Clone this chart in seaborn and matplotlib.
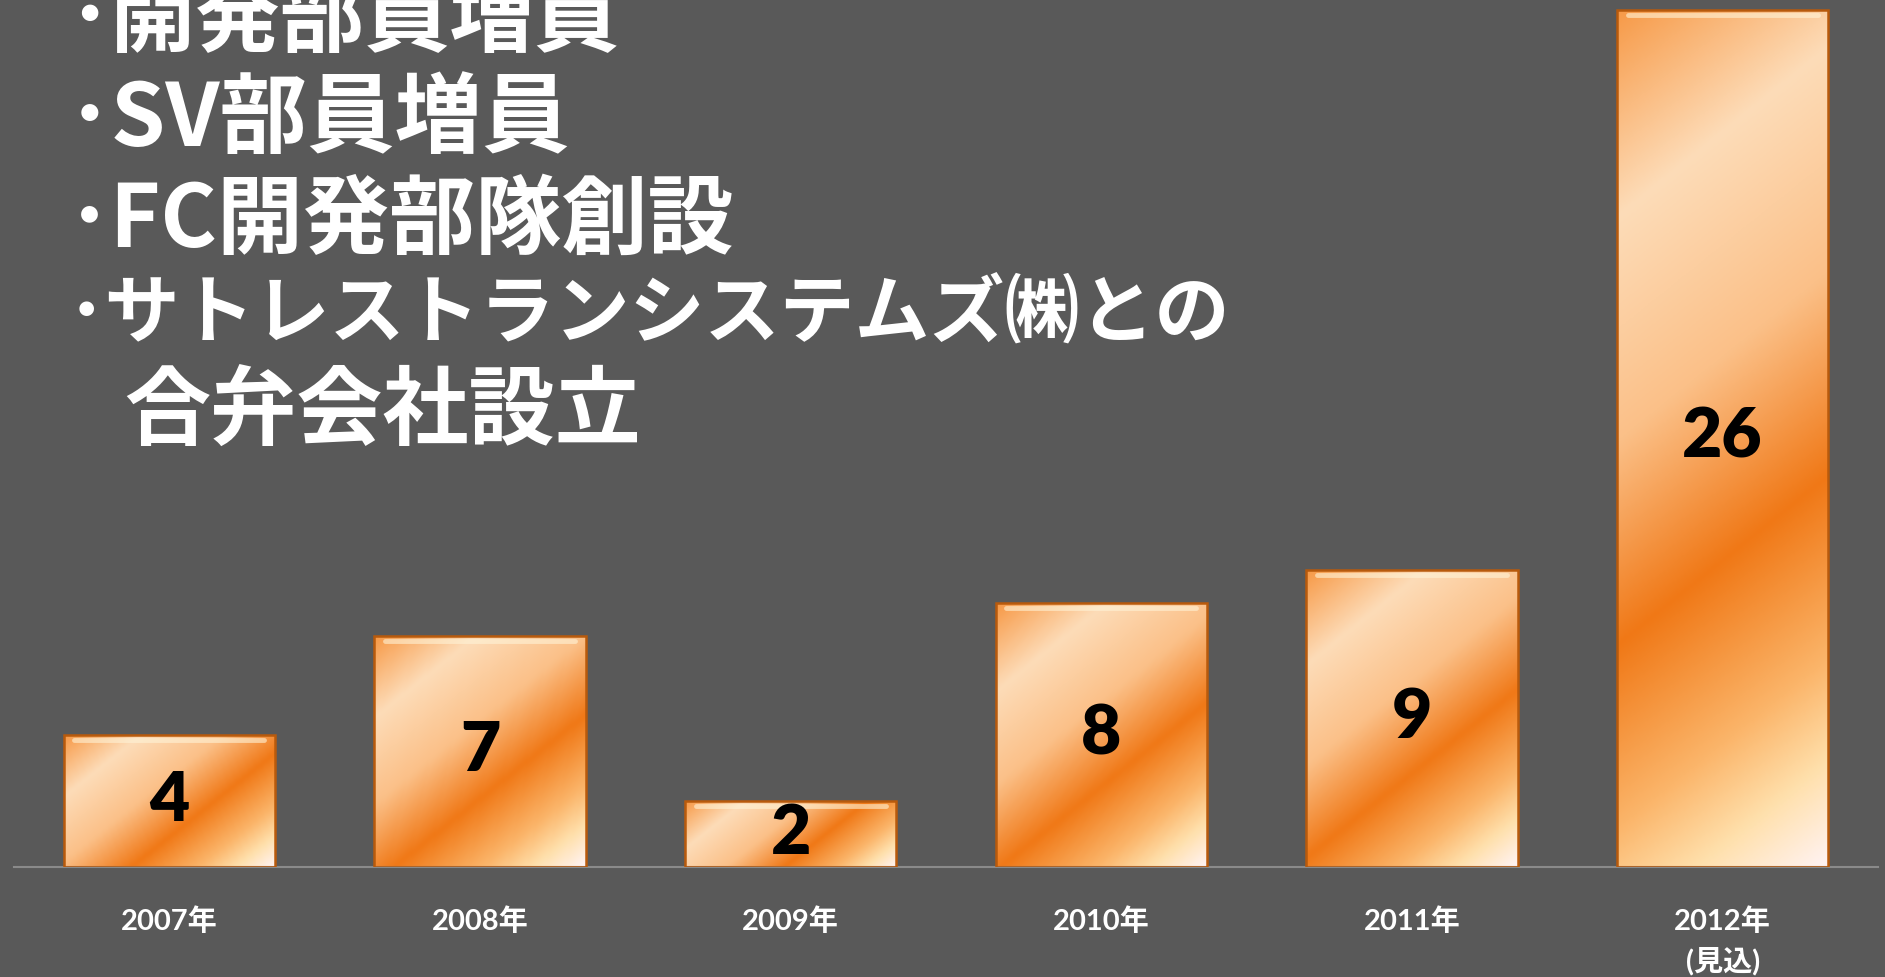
import numpy as np
import matplotlib
matplotlib.use("Agg")
import matplotlib.pyplot as plt
import seaborn as sns
from matplotlib.colors import LinearSegmentedColormap

# data
years = ['2007年', '2008年', '2009年', '2010年', '2011年', '2012年\n(見込)']
counts = [4, 7, 2, 8, 9, 26]
notes = ['･開発部員増員', '･SV部員増員', '･FC開発部隊創設',
         '･サトレストランシステムズ㈱との', '合弁会社設立']

bg = '#595959'
sns.set_style("dark")
plt.rcParams['font.family'] = ['Lato', 'Noto Sans CJK JP', 'DejaVu Sans']

fig = plt.figure(figsize=(18.85, 9.77), dpi=100, facecolor=bg)
ax = fig.add_axes([0.0074, 0.1126, 0.9889, 0.8874])
ax.set_facecolor(bg)

sns.barplot(x=years, y=counts, width=0.68, color='#f07a1a', ax=ax,
            edgecolor='#b85a0c', linewidth=1.8, zorder=2)
ax.set_xlim(-0.5, 5.5)
ax.set_ylim(0, 26.3)

# diagonal orange gradient on each bar (slanted ~40 deg in screen space)
cmap = LinearSegmentedColormap.from_list('bar', [
    (0.0, '#f79a48'), (0.2, '#fddcb8'), (0.42, '#fbc088'),
    (0.62, '#f07816'), (0.8, '#fbb56a'), (0.9, '#ffe0ac'), (1.0, '#fff3f3')])
for p in ax.patches:
    x0, y0 = p.get_xy()
    w, h = p.get_width(), p.get_height()
    bb = p.get_window_extent()
    wp, hp = bb.width, bb.height
    xs = np.linspace(0, wp, 120)
    ys = np.linspace(0, hp, max(60, int(hp / 3)))
    grad = (0.8 * xs[None, :] + ys[:, None]) / (0.8 * wp + hp)
    im = ax.imshow(grad, cmap=cmap, vmin=0, vmax=1,
                   extent=[x0, x0 + w, y0, y0 + h],
                   origin='upper', aspect='auto', zorder=2.5,
                   interpolation='bicubic')
    im.set_clip_path(p)
    p.set_facecolor('none')
    p.set_zorder(3)
    # bevel highlight under the top edge
    ax.plot([x0 + w * 0.05, x0 + w * 0.95], [y0 + h - 0.14, y0 + h - 0.14],
            color='#fff4d8', lw=3.5, alpha=0.6, zorder=3.2,
            solid_capstyle='round')

ax.bar_label(ax.containers[0], label_type='center', fontsize=50,
             fontweight='heavy', color='black', zorder=4)

ax.set_xlabel('')
ax.set_ylabel('')
ax.set_yticks([])
for s in ['top', 'left', 'right']:
    ax.spines[s].set_visible(False)
ax.spines['bottom'].set_color('#8a8a8a')
ax.spines['bottom'].set_linewidth(1.5)
ax.set_xticks(np.arange(6))
ax.set_xticklabels(years, fontsize=21, fontweight='bold', color='white',
                   linespacing=1.5)
ax.set_xticks(np.arange(-0.5, 6, 1), minor=True)
ax.tick_params(axis='x', which='major', length=0, pad=29)
ax.tick_params(axis='x', which='minor', length=7, width=1.3,
               color='#8a8a8a', direction='out')
ax.grid(False)

# bullet notes
line_y = [20, 121, 222, 316, 414]
line_x = [68, 68, 68, 68, 124]
line_size = [61, 63, 62, 54, 62]
for t, yy, xx, fs in zip(notes, line_y, line_x, line_size):
    fig.text(xx / 1885, 1 - yy / 977, t, fontsize=fs, fontweight='bold',
             color='white', va='center', ha='left',
             family=['Noto Sans CJK JP', 'DejaVu Sans'])

fig.savefig('out.png', dpi=100, facecolor=bg)
